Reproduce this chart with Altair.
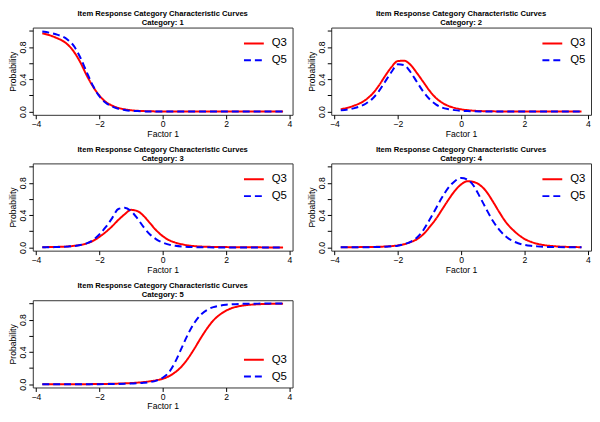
import altair as alt
import pandas as pd

# Factor 1 (theta) grid at which the curves were read
theta = [-3.8, -3.4, -3.0, -2.8, -2.6, -2.4, -2.2, -2.0, -1.8, -1.6, -1.4, -1.2,
         -1.0, -0.8, -0.6, -0.4, -0.2, 0.0, 0.2, 0.4, 0.6, 0.8, 1.0, 1.2,
         1.4, 1.6, 1.8, 2.0, 2.2, 2.4, 2.6, 3.0, 3.4, 3.8]

items = ["Q3", "Q5"]
categories = [1, 2, 3, 4, 5]

cat1_q3 = [0.97, 0.92, 0.83, 0.74, 0.61, 0.45, 0.31, 0.20, 0.12, 0.075, 0.045, 0.028,
           0.017, 0.010, 0.006, 0.004, 0.002, 0.001, 0.0, 0.0, 0.0, 0.0, 0.0, 0.0,
           0.0, 0.0, 0.0, 0.0, 0.0, 0.0, 0.0, 0.0, 0.0, 0.0]
cat1_q5 = [0.99, 0.96, 0.89, 0.81, 0.67, 0.49, 0.32, 0.19, 0.11, 0.065, 0.035, 0.02,
           0.010, 0.006, 0.003, 0.002, 0.001, 0.0, 0.0, 0.0, 0.0, 0.0, 0.0, 0.0,
           0.0, 0.0, 0.0, 0.0, 0.0, 0.0, 0.0, 0.0, 0.0, 0.0]

cat2_q3 = [0.03, 0.07, 0.15, 0.22, 0.32, 0.44, 0.55, 0.625, 0.63, 0.58, 0.48, 0.37,
           0.26, 0.17, 0.11, 0.07, 0.045, 0.028, 0.018, 0.011, 0.007, 0.004, 0.003, 0.002,
           0.001, 0.0, 0.0, 0.0, 0.0, 0.0, 0.0, 0.0, 0.0, 0.0]
cat2_q5 = [0.015, 0.04, 0.10, 0.16, 0.25, 0.37, 0.49, 0.585, 0.575, 0.49, 0.37, 0.25,
           0.155, 0.09, 0.05, 0.03, 0.018, 0.01, 0.006, 0.003, 0.002, 0.001, 0.0, 0.0,
           0.0, 0.0, 0.0, 0.0, 0.0, 0.0, 0.0, 0.0, 0.0, 0.0]

cat3_q3 = [0.003, 0.006, 0.012, 0.02, 0.03, 0.05, 0.08, 0.13, 0.19, 0.26, 0.34, 0.41,
           0.465, 0.45, 0.39, 0.30, 0.21, 0.14, 0.09, 0.06, 0.04, 0.025, 0.016, 0.011,
           0.008, 0.006, 0.005, 0.004, 0.003, 0.002, 0.002, 0.001, 0.0, 0.0]
cat3_q5 = [0.002, 0.004, 0.01, 0.017, 0.03, 0.05, 0.09, 0.16, 0.25, 0.36, 0.475, 0.49,
           0.45, 0.36, 0.25, 0.16, 0.10, 0.06, 0.035, 0.02, 0.011, 0.006, 0.004, 0.002,
           0.001, 0.0, 0.0, 0.0, 0.0, 0.0, 0.0, 0.0, 0.0, 0.0]

cat4_q3 = [0.002, 0.003, 0.005, 0.006, 0.008, 0.011, 0.016, 0.025, 0.04, 0.065, 0.10, 0.16,
           0.25, 0.35, 0.47, 0.59, 0.70, 0.78, 0.82, 0.81, 0.77, 0.69, 0.57, 0.44,
           0.32, 0.23, 0.16, 0.105, 0.07, 0.045, 0.03, 0.013, 0.006, 0.003]
cat4_q5 = [0.001, 0.002, 0.003, 0.004, 0.006, 0.009, 0.014, 0.022, 0.04, 0.07, 0.12, 0.21,
           0.34, 0.48, 0.62, 0.74, 0.82, 0.86, 0.84, 0.76, 0.62, 0.47, 0.33, 0.22,
           0.14, 0.085, 0.052, 0.032, 0.02, 0.013, 0.008, 0.004, 0.002, 0.001]

cat5_q3 = [0.0, 0.0, 0.0, 0.0, 0.001, 0.001, 0.002, 0.003, 0.004, 0.006, 0.008, 0.011,
           0.015, 0.02, 0.027, 0.037, 0.05, 0.068, 0.10, 0.15, 0.22, 0.32, 0.44, 0.57,
           0.69, 0.79, 0.86, 0.91, 0.945, 0.965, 0.978, 0.99, 0.995, 0.998]
cat5_q5 = [0.0, 0.0, 0.0, 0.0, 0.0, 0.0, 0.001, 0.001, 0.002, 0.003, 0.004, 0.006,
           0.008, 0.012, 0.018, 0.027, 0.045, 0.08, 0.15, 0.28, 0.45, 0.62, 0.76, 0.86,
           0.92, 0.955, 0.973, 0.984, 0.99, 0.994, 0.996, 0.998, 0.999, 1.0]

curves = {
    1: (cat1_q3, cat1_q5),
    2: (cat2_q3, cat2_q5),
    3: (cat3_q3, cat3_q5),
    4: (cat4_q3, cat4_q5),
    5: (cat5_q3, cat5_q5),
}

x_ticks = [-4, -2, 0, 2, 4]
y_ticks = [0.0, 0.2, 0.4, 0.6, 0.8, 1.0]

FONT = "Liberation Sans"
W, H = 262, 88


def panel(cat):
    q3, q5 = curves[cat]
    n = len(theta)
    df = pd.DataFrame({
        "theta": theta + theta,
        "prob": q3 + q5,
        "item": [items[0]] * n + [items[1]] * n,
    })
    orient = "bottom-right" if cat == 5 else "top-right"
    leg = alt.Legend(
        title=None, orient=orient, offset=5, padding=0,
        symbolType="stroke", symbolSize=400, symbolStrokeWidth=2,
        labelFont=FONT, labelFontSize=11.5, labelColor="black",
        labelOffset=7, rowPadding=0,
    )
    return alt.Chart(
        df,
        title=alt.TitleParams(
            text=["Item Response Category Characteristic Curves", f"Category: {cat}"],
            font=FONT, fontSize=7.7, fontWeight="bold", color="black",
            anchor="middle", frame="group", offset=1, lineHeight=8.5,
        ),
    ).mark_line(strokeWidth=2, interpolate="monotone").encode(
        x=alt.X("theta:Q", title="Factor 1",
                scale=alt.Scale(domain=[-4.1, 4.1], nice=False, zero=False),
                axis=alt.Axis(values=x_ticks, labelFlush=False)),
        y=alt.Y("prob:Q", title="Probability",
                scale=alt.Scale(domain=[-0.04, 1.04], nice=False, zero=False),
                axis=alt.Axis(values=y_ticks, labelAngle=270, labelAlign="center",
                              labelBaseline="bottom",
                              labelExpr="(abs(datum.value-0.2)<0.01 || abs(datum.value-0.6)<0.01 || abs(datum.value-1)<0.01) ? '' : format(datum.value, '.1f')")),
        color=alt.Color("item:N", scale=alt.Scale(domain=items, range=["#FF0000", "#0000FF"]),
                        legend=leg),
        strokeDash=alt.StrokeDash("item:N", scale=alt.Scale(domain=items, range=[[1, 0], [7, 4]]),
                                  legend=leg),
    ).properties(width=W, height=H)


chart = alt.concat(
    *[panel(c) for c in categories], columns=2,
    spacing={"row": 7, "column": 13},
).resolve_legend(
    color="independent", strokeDash="independent"
).resolve_scale(
    color="independent", strokeDash="independent"
).properties(
    padding=0
).configure_view(
    stroke="#333333", strokeWidth=1
).configure_axis(
    grid=False, domain=False, tickColor="black", tickSize=4,
    labelColor="black", titleColor="black",
    labelFont=FONT, titleFont=FONT, labelFontSize=8.7, titleFontSize=8.7,
    titleFontWeight="normal", labelPadding=1, titlePadding=1,
)

chart.save("out.html", embed_options={"renderer": "svg", "actions": False})
